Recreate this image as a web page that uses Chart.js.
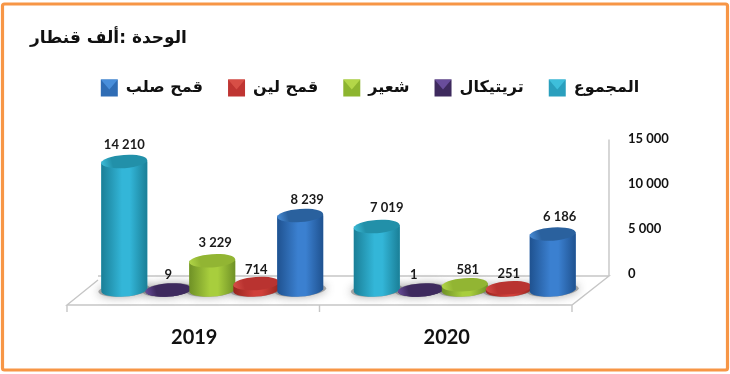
<!DOCTYPE html>
<html lang="ar"><head><meta charset="utf-8">
<style>html,body{margin:0;padding:0;background:#fff}#w{width:730px;height:374px;position:relative}</style>
<script src="https://cdn.jsdelivr.net/npm/chart.js@4"></script></head>
<body><div id="w"><canvas id="c" width="730" height="374"></canvas></div>
<script>
const years = ['2019', '2020'];
const total = [14210, 7019];
const triticale = [9, 1];
const barley = [3229, 581];
const softWheat = [714, 251];
const durumWheat = [8239, 6186];
const seriesNames = ['المجموع', 'تريتيكال', 'شعير', 'قمح لين', 'قمح صلب'];
const unitTitle = 'الوحدة :ألف قنطار';
const yTicks = [0, 5000, 10000, 15000];

const palette = [
  {base:'#2a9fbd', edge:'#1a7f97', mid:'#33b6d8', cap:'#2290a9', hi:'#3fc0dc'},
  {base:'#3e2a5e', edge:'#2f2050', mid:'#44306a', cap:'#3e2a5e', hi:'#6b4f9e'},
  {base:'#8db52f', edge:'#6f9126', mid:'#a8ce3d', cap:'#92b533', hi:'#b5d94a'},
  {base:'#bf3532', edge:'#98261f', mid:'#d0403a', cap:'#b93330', hi:'#d85048'},
  {base:'#2f6db5', edge:'#1f5290', mid:'#3b80d0', cap:'#2a619e', hi:'#4a90dc'}
];
const latin = '"Lato","DejaVu Sans",sans-serif';
const arabic = '"DejaVu Sans",sans-serif';
const fmt = v => String(v).replace(/\B(?=(\d{3})+$)/g, ' ');
const TILT = -4 * Math.PI / 180, RY = 6.6;
/* hand-placed label nudges of the original, [series][year] */
const labelNudgeX = [[0, 10], [0, -7], [3, 3], [0, 0], [7, 7]];
const labelNudgeY = [[-16.5, -18.5], [-15, -15], [-17.5, -14.5], [-14, -14], [-15.5, -17.5]];

function cylinder(ctx, bar, col) {
  const rx = bar.width / 2, x = bar.x, top = bar.y, bot = bar.base;
  const dx = rx * Math.cos(TILT), dy = rx * Math.sin(TILT);
  ctx.save();
  const g = ctx.createLinearGradient(x - rx, 0, x + rx, 0);
  g.addColorStop(0, col.edge); g.addColorStop(.45, col.mid); g.addColorStop(.62, col.mid); g.addColorStop(1, col.edge);
  ctx.fillStyle = g;
  ctx.beginPath();
  ctx.moveTo(x - dx, top - dy);
  ctx.lineTo(x - dx, bot - dy);
  ctx.ellipse(x, bot, rx, RY, TILT, Math.PI, 0, true);
  ctx.lineTo(x + dx, top + dy);
  ctx.closePath();
  ctx.fill();
  const g2 = ctx.createLinearGradient(x - rx, top + 6, x + rx, top - 6);
  g2.addColorStop(0, col.hi); g2.addColorStop(.25, col.cap); g2.addColorStop(1, col.cap);
  ctx.fillStyle = g2;
  ctx.beginPath();
  ctx.ellipse(x, top, rx, RY, TILT, 0, Math.PI * 2);
  ctx.fill();
  ctx.restore();
}

const scene = {
  id: 'scene',
  beforeDatasetsDraw(chart) {
    const {ctx, chartArea: a, scales: {y}} = chart;
    const shift = 19, depthX = 37, depthY = 29;
    const fy = y.getPixelForValue(0) + 15, fl = a.left - shift, fr = a.right - shift;
    ctx.save();
    ctx.strokeStyle = '#c6c6c6'; ctx.lineWidth = 1.4;
    ctx.beginPath();
    ctx.moveTo(fl + depthX - 6, fy - depthY + 4); ctx.lineTo(fl, fy);
    ctx.lineTo(fr, fy); ctx.lineTo(fr + depthX, fy - depthY);
    ctx.lineTo(fl + depthX - 6, fy - depthY);
    ctx.moveTo(fr + depthX, fy - depthY); ctx.lineTo(fr + depthX, y.getPixelForValue(15000) - 15);
    [fl, (fl + fr) / 2, fr].forEach(t => { ctx.moveTo(t, fy); ctx.lineTo(t, fy + 7); });
    ctx.stroke();
    ctx.restore();
    // soft floor shadows
    ctx.save();
    ctx.shadowColor = 'rgba(70,70,70,.8)'; ctx.shadowBlur = 10;
    ctx.fillStyle = 'rgba(120,120,120,.6)';
    chart.data.datasets.forEach((d, i) => chart.getDatasetMeta(i).data.forEach(b => {
      ctx.beginPath();
      ctx.ellipse(b.x, b.base, b.width / 2 + 3, RY, TILT, 0, Math.PI * 2);
      ctx.fill();
    }));
    ctx.restore();
  },
  afterDatasetsDraw(chart) {
    const {ctx} = chart;
    chart.data.datasets.forEach((d, i) => chart.getDatasetMeta(i).data.forEach(b => cylinder(ctx, b, palette[i])));
    ctx.save();
    ctx.fillStyle = '#1a1a1a'; ctx.font = 'bold 13px ' + latin;
    ctx.textAlign = 'center'; ctx.textBaseline = 'middle';
    chart.data.datasets.forEach((d, i) => chart.getDatasetMeta(i).data.forEach((b, j) => {
      ctx.fillText(fmt(d.data[j]), b.x + labelNudgeX[i][j], b.y + labelNudgeY[i][j]);
    }));
    ctx.restore();
  },
  afterDraw(chart) {
    const {ctx} = chart;
    // legend bevels
    (chart.legend.legendHitBoxes || []).forEach((h, k) => {
      const n = palette.length - 1 - k, bw = chart.legend.options.labels.boxWidth, bh = chart.legend.options.labels.boxHeight;
      const x = h.left, y = h.top + (h.height - bh) / 2;
      ctx.save();
      ctx.fillStyle = palette[n].hi; ctx.globalAlpha = .95;
      ctx.beginPath(); ctx.moveTo(x, y); ctx.lineTo(x + bw, y); ctx.lineTo(x + bw / 2, y + bh * .6); ctx.closePath(); ctx.fill();
      ctx.restore();
    });
    // orange frame
    ctx.save();
    ctx.strokeStyle = '#f79646'; ctx.lineWidth = 3.2;
    ctx.beginPath(); ctx.roundRect(2.5, 4, 725, 366, 2); ctx.stroke();
    ctx.restore();
  }
};

const makeSet = (label, data, i) => ({label, data, backgroundColor: palette[i].base, borderWidth: 0, borderSkipped: false});

new Chart(document.getElementById('c'), {
  type: 'bar',
  plugins: [scene],
  data: {
    labels: years,
    datasets: [total, triticale, barley, softWheat, durumWheat].map((d, i) => makeSet(seriesNames[i], d, i))
  },
  options: {
    responsive: false, animation: false, devicePixelRatio: 1,
    layout: {padding: {left: 30, right: 20, top: 15, bottom: 0}},
    datasets: {bar: {categoryPercentage: 0.871, barPercentage: 1.045}},
    plugins: {
      tooltip: {enabled: false},
      title: {display: true, text: unitTitle, align: 'start', color: '#111',
        font: {family: arabic, size: 17, weight: 'bold', lineHeight: 1.2}, padding: {top: 13, bottom: 6}},
      legend: {position: 'top', reverse: true,
        labels: {boxWidth: 17, boxHeight: 17, padding: 25, color: '#111',
          font: {family: arabic, size: 16, weight: 'bold'}}}
    },
    scales: {
      x: {offset: true, grid: {display: false}, border: {display: false},
        ticks: {color: '#111', padding: 28, labelOffset: -18, maxRotation: 0, autoSkip: false,
          font: {family: latin, size: 20, weight: 'bold'}},
        afterFit(s) { s.height = 84; }},
      xTopSpace: {axis: 'x', type: 'linear', position: 'top', grid: {display: false}, border: {display: false},
        ticks: {display: false}, afterFit(s) { s.height = 48; }},
      y: {position: 'right', min: 0, max: 15000, grid: {display: false}, border: {display: false},
        afterBuildTicks(s) { s.ticks = yTicks.map(value => ({value})); },
        ticks: {color: '#111', padding: 29, labelOffset: -16, callback: v => fmt(v),
          font: {family: latin, size: 13, weight: 'bold'}},
        afterFit(s) { s.width = 119; }},
      yLeftSpace: {axis: 'y', type: 'linear', position: 'left', grid: {display: false}, border: {display: false},
        ticks: {display: false}, afterFit(s) { s.width = 56; }}
    }
  }
});
</script></body></html>
